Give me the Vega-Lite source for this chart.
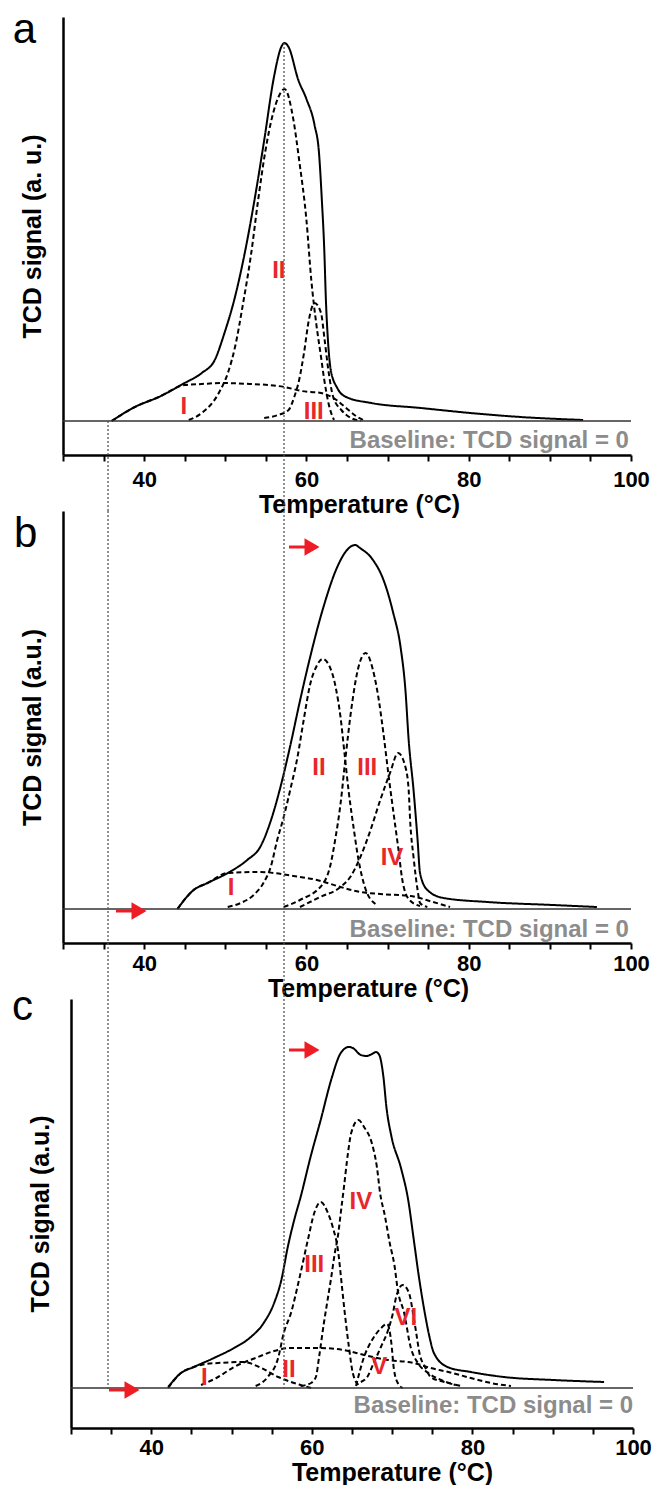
{
"$schema": "https://vega.github.io/schema/vega-lite/v6.json",
"padding": {"left": 11, "top": 8, "right": 6, "bottom": 0},
"background": "white",
"config": {
 "view": {"stroke": null},
 "font": "Liberation Sans",
 "axisX": {"grid": false, "tickSize": 6, "tickWidth": 2, "tickColor": "#000", "domainColor": "#000", "domainWidth": 2.5, "labelFontSize": 22, "labelFontWeight": "bold", "labelColor": "#000", "labelPadding": 8, "labelFlush": false, "labelOverlap": false, "titleFontSize": 25, "titleFontWeight": "bold", "titleColor": "#000", "titlePadding": 2, "values": [30, 40, 50, 60, 70, 80, 90, 100], "labelExpr": "datum.value % 20 == 0 && datum.value > 30 ? datum.label : ''"},
 "axisY": {"grid": false, "labels": false, "ticks": false, "domainColor": "#000", "domainWidth": 2.5, "titleFontSize": 25, "titleFontWeight": "bold", "titleColor": "#000", "titlePadding": 18}
},
"datasets": {
 "A": [
  {"s":"t","T":36.0,"v":0},{"s":"t","T":38.85,"v":0.14},{"s":"t","T":41.8,"v":0.24},{"s":"t","T":45.0,"v":0.38},{"s":"t","T":47.1,"v":0.48},{"s":"t","T":48.7,"v":0.61},{"s":"t","T":49.9,"v":0.88},{"s":"t","T":51.1,"v":1.21},{"s":"t","T":52.4,"v":1.68},{"s":"t","T":53.6,"v":2.21},{"s":"t","T":54.8,"v":2.81},{"s":"t","T":56.0,"v":3.44},{"s":"t","T":56.9,"v":3.74},{"s":"t","T":57.3,"v":3.78},{"s":"t","T":57.8,"v":3.74},{"s":"t","T":59.0,"v":3.41},{"s":"t","T":60.0,"v":3.22},{"s":"t","T":61.0,"v":2.96},{"s":"t","T":61.55,"v":2.68},{"s":"t","T":61.9,"v":2.21},{"s":"t","T":62.2,"v":1.71},{"s":"t","T":62.4,"v":1.21},{"s":"t","T":62.65,"v":0.81},{"s":"t","T":63.0,"v":0.51},{"s":"t","T":63.8,"v":0.33},{"s":"t","T":64.9,"v":0.24},{"s":"t","T":68.0,"v":0.18},{"s":"t","T":74.1,"v":0.13},{"s":"t","T":80.2,"v":0.08},{"s":"t","T":86.4,"v":0.04},{"s":"t","T":94.1,"v":0.01},
  {"s":"I","T":36.0,"v":0},{"s":"I","T":38.85,"v":0.14},{"s":"I","T":41.8,"v":0.24},{"s":"I","T":45.0,"v":0.36},{"s":"I","T":47.1,"v":0.37},{"s":"I","T":49.5,"v":0.38},{"s":"I","T":53.2,"v":0.37},{"s":"I","T":55.3,"v":0.36},{"s":"I","T":57.3,"v":0.34},{"s":"I","T":59.4,"v":0.30},{"s":"I","T":61.8,"v":0.28},{"s":"I","T":63.7,"v":0.21},{"s":"I","T":64.9,"v":0.13},{"s":"I","T":66.1,"v":0.05},{"s":"I","T":67.3,"v":0},
  {"s":"II","T":45.5,"v":0.01},{"s":"II","T":47.1,"v":0.08},{"s":"II","T":49.2,"v":0.28},{"s":"II","T":50.4,"v":0.5},{"s":"II","T":51.2,"v":0.74},{"s":"II","T":52.2,"v":1.18},{"s":"II","T":53.2,"v":1.68},{"s":"II","T":54.0,"v":2.18},{"s":"II","T":54.9,"v":2.68},{"s":"II","T":55.9,"v":3.08},{"s":"II","T":56.5,"v":3.23},{"s":"II","T":57.3,"v":3.32},{"s":"II","T":58.4,"v":3.01},{"s":"II","T":59.1,"v":2.61},{"s":"II","T":60.0,"v":2.01},{"s":"II","T":60.6,"v":1.41},{"s":"II","T":61.2,"v":0.98},{"s":"II","T":61.8,"v":0.64},{"s":"II","T":62.2,"v":0.41},{"s":"II","T":62.8,"v":0.15},{"s":"II","T":63.4,"v":0.01},
  {"s":"III","T":54.8,"v":0.03},{"s":"III","T":56.5,"v":0.06},{"s":"III","T":57.8,"v":0.11},{"s":"III","T":58.5,"v":0.24},{"s":"III","T":59.1,"v":0.41},{"s":"III","T":59.7,"v":0.68},{"s":"III","T":60.3,"v":1.01},{"s":"III","T":61.0,"v":1.18},{"s":"III","T":61.8,"v":1.08},{"s":"III","T":62.2,"v":0.84},{"s":"III","T":62.7,"v":0.51},{"s":"III","T":63.3,"v":0.24},{"s":"III","T":64.3,"v":0.11},{"s":"III","T":65.5,"v":0.03},{"s":"III","T":66.7,"v":0}
 ],
 "B": [
  {"s":"t","T":44.1,"v":0},{"s":"t","T":46.1,"v":0.19},{"s":"t","T":47.8,"v":0.26},{"s":"t","T":50.3,"v":0.36},{"s":"t","T":52.7,"v":0.49},{"s":"t","T":54.3,"v":0.62},{"s":"t","T":55.6,"v":0.88},{"s":"t","T":56.8,"v":1.22},{"s":"t","T":58.0,"v":1.63},{"s":"t","T":59.2,"v":2.08},{"s":"t","T":60.4,"v":2.50},{"s":"t","T":62.1,"v":3.02},{"s":"t","T":63.8,"v":3.42},{"s":"t","T":65.0,"v":3.59},{"s":"t","T":66.0,"v":3.64},{"s":"t","T":66.6,"v":3.61},{"s":"t","T":68.2,"v":3.49},{"s":"t","T":69.5,"v":3.29},{"s":"t","T":70.7,"v":2.96},{"s":"t","T":71.6,"v":2.62},{"s":"t","T":72.2,"v":2.19},{"s":"t","T":72.6,"v":1.69},{"s":"t","T":73.2,"v":1.19},{"s":"t","T":73.7,"v":0.69},{"s":"t","T":74.0,"v":0.36},{"s":"t","T":74.9,"v":0.19},{"s":"t","T":76.9,"v":0.11},{"s":"t","T":82.3,"v":0.07},{"s":"t","T":90.4,"v":0.04},{"s":"t","T":95.8,"v":0.02},
  {"s":"I","T":44.1,"v":0},{"s":"I","T":46.1,"v":0.19},{"s":"I","T":47.8,"v":0.26},{"s":"I","T":50.3,"v":0.36},{"s":"I","T":54.3,"v":0.37},{"s":"I","T":58.4,"v":0.33},{"s":"I","T":61.3,"v":0.29},{"s":"I","T":64.2,"v":0.22},{"s":"I","T":66.6,"v":0.17},{"s":"I","T":69.1,"v":0.15},{"s":"I","T":72.8,"v":0.13},{"s":"I","T":75.6,"v":0.07},{"s":"I","T":77.7,"v":0.02},
  {"s":"II","T":50.3,"v":0.02},{"s":"II","T":51.9,"v":0.06},{"s":"II","T":53.5,"v":0.14},{"s":"II","T":54.7,"v":0.26},{"s":"II","T":55.6,"v":0.42},{"s":"II","T":56.4,"v":0.69},{"s":"II","T":57.2,"v":0.92},{"s":"II","T":58.0,"v":1.19},{"s":"II","T":58.9,"v":1.52},{"s":"II","T":59.6,"v":1.86},{"s":"II","T":60.5,"v":2.26},{"s":"II","T":61.2,"v":2.42},{"s":"II","T":62.0,"v":2.50},{"s":"II","T":62.7,"v":2.45},{"s":"II","T":63.6,"v":2.22},{"s":"II","T":64.2,"v":1.92},{"s":"II","T":64.7,"v":1.55},{"s":"II","T":65.2,"v":1.18},{"s":"II","T":65.8,"v":0.82},{"s":"II","T":66.4,"v":0.5},{"s":"II","T":67.2,"v":0.22},{"s":"II","T":68.5,"v":0.05},
  {"s":"III","T":57.2,"v":0.02},{"s":"III","T":59.2,"v":0.09},{"s":"III","T":62.1,"v":0.26},{"s":"III","T":62.9,"v":0.42},{"s":"III","T":63.6,"v":0.72},{"s":"III","T":64.2,"v":1.05},{"s":"III","T":64.8,"v":1.5},{"s":"III","T":65.5,"v":1.98},{"s":"III","T":66.3,"v":2.38},{"s":"III","T":67.3,"v":2.56},{"s":"III","T":68.2,"v":2.39},{"s":"III","T":68.9,"v":2.1},{"s":"III","T":69.5,"v":1.75},{"s":"III","T":70.1,"v":1.35},{"s":"III","T":70.7,"v":0.98},{"s":"III","T":71.3,"v":0.62},{"s":"III","T":71.8,"v":0.3},{"s":"III","T":72.6,"v":0.1},{"s":"III","T":74.0,"v":0.03},
  {"s":"IV","T":59.2,"v":0.02},{"s":"IV","T":61.7,"v":0.12},{"s":"IV","T":64.2,"v":0.22},{"s":"IV","T":65.4,"v":0.32},{"s":"IV","T":66.6,"v":0.51},{"s":"IV","T":67.9,"v":0.79},{"s":"IV","T":69.1,"v":1.09},{"s":"IV","T":70.3,"v":1.36},{"s":"IV","T":71.3,"v":1.56},{"s":"IV","T":72.2,"v":1.42},{"s":"IV","T":72.6,"v":1.19},{"s":"IV","T":72.8,"v":0.86},{"s":"IV","T":73.2,"v":0.52},{"s":"IV","T":73.7,"v":0.19},{"s":"IV","T":74.0,"v":0.06},{"s":"IV","T":74.9,"v":0.02}
 ],
 "C": [
  {"s":"t","T":42.1,"v":0.01},{"s":"t","T":43.7,"v":0.15},{"s":"t","T":45.3,"v":0.21},{"s":"t","T":47.8,"v":0.30},{"s":"t","T":50.3,"v":0.40},{"s":"t","T":52.4,"v":0.51},{"s":"t","T":54.0,"v":0.65},{"s":"t","T":55.3,"v":0.85},{"s":"t","T":56.2,"v":1.08},{"s":"t","T":57.0,"v":1.41},{"s":"t","T":57.8,"v":1.68},{"s":"t","T":58.6,"v":1.91},{"s":"t","T":59.9,"v":2.33},{"s":"t","T":61.1,"v":2.68},{"s":"t","T":62.4,"v":3.08},{"s":"t","T":63.6,"v":3.35},{"s":"t","T":64.6,"v":3.41},{"s":"t","T":65.1,"v":3.40},{"s":"t","T":66.1,"v":3.33},{"s":"t","T":66.8,"v":3.32},{"s":"t","T":67.5,"v":3.34},{"s":"t","T":68.0,"v":3.36},{"s":"t","T":68.4,"v":3.33},{"s":"t","T":68.9,"v":3.12},{"s":"t","T":69.3,"v":2.8},{"s":"t","T":69.9,"v":2.52},{"s":"t","T":71.1,"v":2.2},{"s":"t","T":72.0,"v":1.88},{"s":"t","T":72.7,"v":1.48},{"s":"t","T":73.3,"v":1.13},{"s":"t","T":74.0,"v":0.78},{"s":"t","T":74.6,"v":0.53},{"s":"t","T":75.2,"v":0.35},{"s":"t","T":76.9,"v":0.21},{"s":"t","T":79.8,"v":0.16},{"s":"t","T":83.9,"v":0.11},{"s":"t","T":90.1,"v":0.08},{"s":"t","T":96.4,"v":0.06},
  {"s":"I","T":42.1,"v":0},{"s":"I","T":43.7,"v":0.15},{"s":"I","T":45.3,"v":0.21},{"s":"I","T":46.8,"v":0.24},{"s":"I","T":48.3,"v":0.25},{"s":"I","T":51.5,"v":0.26},{"s":"I","T":53.7,"v":0.20},{"s":"I","T":55.8,"v":0.11},{"s":"I","T":57.4,"v":0.06},{"s":"I","T":58.6,"v":0.03},{"s":"I","T":59.9,"v":0},
  {"s":"II","T":46.2,"v":0.03},{"s":"II","T":48.1,"v":0.10},{"s":"II","T":50.3,"v":0.21},{"s":"II","T":53.3,"v":0.31},{"s":"II","T":55.3,"v":0.37},{"s":"II","T":57.4,"v":0.40},{"s":"II","T":60.8,"v":0.40},{"s":"II","T":64.0,"v":0.38},{"s":"II","T":66.5,"v":0.33},{"s":"II","T":69.5,"v":0.28},{"s":"II","T":72.7,"v":0.25},{"s":"II","T":74.8,"v":0.20},{"s":"II","T":77.0,"v":0.16},{"s":"II","T":79.8,"v":0.10},{"s":"II","T":82.3,"v":0.05},{"s":"II","T":84.8,"v":0.02},
  {"s":"III","T":53.0,"v":0.02},{"s":"III","T":54.5,"v":0.11},{"s":"III","T":55.8,"v":0.30},{"s":"III","T":56.5,"v":0.55},{"s":"III","T":57.4,"v":0.75},{"s":"III","T":58.4,"v":1.08},{"s":"III","T":59.5,"v":1.48},{"s":"III","T":60.3,"v":1.75},{"s":"III","T":61.1,"v":1.86},{"s":"III","T":62.0,"v":1.75},{"s":"III","T":62.6,"v":1.61},{"s":"III","T":63.3,"v":1.35},{"s":"III","T":63.7,"v":1.05},{"s":"III","T":64.1,"v":0.75},{"s":"III","T":64.6,"v":0.42},{"s":"III","T":65.1,"v":0.15},{"s":"III","T":65.8,"v":0.03},
  {"s":"IV","T":58.6,"v":0.02},{"s":"IV","T":59.9,"v":0.05},{"s":"IV","T":60.5,"v":0.11},{"s":"IV","T":60.9,"v":0.31},{"s":"IV","T":61.5,"v":0.65},{"s":"IV","T":62.0,"v":0.90},{"s":"IV","T":62.4,"v":1.10},{"s":"IV","T":62.8,"v":1.32},{"s":"IV","T":63.3,"v":1.55},{"s":"IV","T":63.6,"v":1.75},{"s":"IV","T":64.0,"v":2.01},{"s":"IV","T":64.5,"v":2.35},{"s":"IV","T":64.9,"v":2.55},{"s":"IV","T":65.8,"v":2.68},{"s":"IV","T":66.5,"v":2.61},{"s":"IV","T":67.5,"v":2.44},{"s":"IV","T":68.1,"v":2.21},{"s":"IV","T":68.5,"v":1.95},{"s":"IV","T":69.1,"v":1.72},{"s":"IV","T":69.7,"v":1.45},{"s":"IV","T":70.3,"v":1.22},{"s":"IV","T":70.7,"v":0.98},{"s":"IV","T":71.5,"v":0.75},{"s":"IV","T":72.3,"v":0.41},{"s":"IV","T":73.2,"v":0.25},{"s":"IV","T":74.5,"v":0.15},{"s":"IV","T":76.1,"v":0.08},{"s":"IV","T":77.9,"v":0.03},
  {"s":"V","T":65.5,"v":0.02},{"s":"V","T":66.5,"v":0.31},{"s":"V","T":67.5,"v":0.48},{"s":"V","T":68.4,"v":0.58},{"s":"V","T":69.4,"v":0.64},{"s":"V","T":69.9,"v":0.45},{"s":"V","T":70.2,"v":0.2},{"s":"V","T":70.7,"v":0.05},{"s":"V","T":71.3,"v":0},
  {"s":"VI","T":66.1,"v":0.06},{"s":"VI","T":66.9,"v":0.11},{"s":"VI","T":67.7,"v":0.25},{"s":"VI","T":68.6,"v":0.41},{"s":"VI","T":69.5,"v":0.58},{"s":"VI","T":70.1,"v":0.75},{"s":"VI","T":70.5,"v":0.91},{"s":"VI","T":71.3,"v":1.03},{"s":"VI","T":72.1,"v":0.95},{"s":"VI","T":72.6,"v":0.75},{"s":"VI","T":73.0,"v":0.55},{"s":"VI","T":73.4,"v":0.35},{"s":"VI","T":74.1,"v":0.21},{"s":"VI","T":74.8,"v":0.11},{"s":"VI","T":76.5,"v":0.06},{"s":"VI","T":78.6,"v":0.02}
 ]
},
"spacing": 56,
"bounds": "flush",
"vconcat": [
 {
  "width": 568, "height": 438,
  "layer": [
   {"data": {"name": "A"}, "mark": {"type": "line", "color": "#000", "strokeWidth": 2, "interpolate": "monotone"}, "encoding": {
     "x": {"field": "T", "type": "quantitative", "scale": {"domain": [30, 100], "nice": false, "zero": false}, "title": "Temperature (°C)", "axis": {"titleX": 296, "labelPadding": 8}},
     "y": {"field": "v", "type": "quantitative", "scale": {"domain": [-0.34, 4.04], "nice": false, "zero": false}, "title": "TCD signal (a. u.)"},
     "strokeDash": {"field": "s", "type": "nominal", "scale": {"domain": ["t", "I", "II", "III", "IV", "V", "VI"], "range": [[1, 0], [5, 3], [5, 3], [5, 3], [5, 3], [5, 3], [5, 3]]}, "legend": null}}},
   {"data": {"values": [{}]}, "mark": {"type": "rule", "color": "#333", "strokeWidth": 1.5}, "encoding": {"y": {"datum": 0, "type": "quantitative"}}},
   {"data": {"values": [{"T": 35.55, "v": 0, "v2": -0.9}, {"T": 57.24, "v": 3.78, "v2": -0.9}]}, "mark": {"type": "rule", "color": "#555", "strokeWidth": 1.3, "strokeDash": [2, 2]}, "encoding": {"x": {"field": "T", "type": "quantitative"}, "y": {"field": "v", "type": "quantitative"}, "y2": {"field": "v2"}}},
   {"data": {"values": [{"lab": "I", "T": 44.9, "v": 0.14}, {"lab": "II", "T": 56.6, "v": 1.5}, {"lab": "III", "T": 60.9, "v": 0.09}]}, "mark": {"type": "text", "color": "#e8262c", "fontSize": 24, "fontWeight": "bold", "baseline": "middle", "align": "center"}, "encoding": {"x": {"field": "T", "type": "quantitative"}, "y": {"field": "v", "type": "quantitative"}, "text": {"field": "lab"}}},
   {"data": {"values": [{}]}, "mark": {"type": "text", "align": "right", "baseline": "alphabetic", "fontSize": 24, "fontWeight": "bold", "color": "#8c8c8c", "text": "Baseline: TCD signal = 0"}, "encoding": {"x": {"datum": 99.75, "type": "quantitative"}, "y": {"datum": -0.27, "type": "quantitative"}}},
   {"data": {"values": [{}]}, "mark": {"type": "text", "align": "left", "baseline": "alphabetic", "fontSize": 42, "color": "#000", "text": "a"}, "encoding": {"x": {"datum": 23.8, "type": "quantitative"}, "y": {"datum": 3.78, "type": "quantitative"}}}
  ]
 },
 {
  "width": 568, "height": 432,
  "layer": [
   {"data": {"name": "B"}, "mark": {"type": "line", "color": "#000", "strokeWidth": 2, "interpolate": "monotone"}, "encoding": {
     "x": {"field": "T", "type": "quantitative", "scale": {"domain": [30, 100], "nice": false, "zero": false}, "title": "Temperature (°C)", "axis": {"titleX": 305, "labelPadding": 4}},
     "y": {"field": "v", "type": "quantitative", "scale": {"domain": [-0.34, 3.98], "nice": false, "zero": false}, "title": "TCD signal (a.u.)"},
     "strokeDash": {"field": "s", "type": "nominal", "scale": {"domain": ["t", "I", "II", "III", "IV", "V", "VI"], "range": [[1, 0], [5, 3], [5, 3], [5, 3], [5, 3], [5, 3], [5, 3]]}, "legend": null}}},
   {"data": {"values": [{}]}, "mark": {"type": "rule", "color": "#333", "strokeWidth": 1.5}, "encoding": {"y": {"datum": 0, "type": "quantitative"}}},
   {"data": {"values": [{"T": 35.55, "v": 3.98, "v2": -0.9}, {"T": 57.24, "v": 3.98, "v2": -0.9}]}, "mark": {"type": "rule", "color": "#555", "strokeWidth": 1.3, "strokeDash": [2, 2]}, "encoding": {"x": {"field": "T", "type": "quantitative"}, "y": {"field": "v", "type": "quantitative"}, "y2": {"field": "v2"}}},
   {"data": {"values": [{"lab": "I", "T": 50.7, "v": 0.21}, {"lab": "II", "T": 61.55, "v": 1.41}, {"lab": "III", "T": 67.5, "v": 1.41}, {"lab": "IV", "T": 70.55, "v": 0.51}]}, "mark": {"type": "text", "color": "#e8262c", "fontSize": 24, "fontWeight": "bold", "baseline": "middle", "align": "center"}, "encoding": {"x": {"field": "T", "type": "quantitative"}, "y": {"field": "v", "type": "quantitative"}, "text": {"field": "lab"}}},
   {"data": {"values": [{"T": 36.53, "T2": 39.37, "v": -0.02}, {"T": 57.85, "T2": 60.69, "v": 3.62}]}, "layer": [
     {"mark": {"type": "rule", "color": "#ee1c24", "strokeWidth": 3}, "encoding": {"x": {"field": "T", "type": "quantitative"}, "x2": {"field": "T2"}, "y": {"field": "v", "type": "quantitative"}}},
     {"mark": {"type": "point", "shape": "triangle-right", "filled": true, "size": 300, "color": "#ee1c24", "opacity": 1}, "encoding": {"x": {"field": "T2", "type": "quantitative"}, "y": {"field": "v", "type": "quantitative"}}}
   ]},
   {"data": {"values": [{}]}, "mark": {"type": "text", "align": "right", "baseline": "alphabetic", "fontSize": 24, "fontWeight": "bold", "color": "#8c8c8c", "text": "Baseline: TCD signal = 0"}, "encoding": {"x": {"datum": 99.75, "type": "quantitative"}, "y": {"datum": -0.28, "type": "quantitative"}}},
   {"data": {"values": [{}]}, "mark": {"type": "text", "align": "left", "baseline": "alphabetic", "fontSize": 42, "color": "#000", "text": "b"}, "encoding": {"x": {"datum": 23.96, "type": "quantitative"}, "y": {"datum": 3.62, "type": "quantitative"}}}
  ]
 },
 {
  "spacing": 7,
  "bounds": "flush",
  "hconcat": [
   {"width": 1, "height": 1, "data": {"values": [{}]}, "mark": {"type": "point", "opacity": 0}},
   {
    "width": 562, "height": 429,
    "layer": [
     {"data": {"name": "C"}, "mark": {"type": "line", "color": "#000", "strokeWidth": 2, "interpolate": "monotone"}, "encoding": {
       "x": {"field": "T", "type": "quantitative", "scale": {"domain": [30, 100], "nice": false, "zero": false}, "title": "Temperature (°C)", "axis": {"titleX": 321, "labelPadding": 3}},
       "y": {"field": "v", "type": "quantitative", "scale": {"domain": [-0.40, 3.89], "nice": false, "zero": false}, "title": "TCD signal (a.u.)"},
       "strokeDash": {"field": "s", "type": "nominal", "scale": {"domain": ["t", "I", "II", "III", "IV", "V", "VI"], "range": [[1, 0], [5, 3], [5, 3], [5, 3], [5, 3], [5, 3], [5, 3]]}, "legend": null}}},
     {"data": {"values": [{}]}, "mark": {"type": "rule", "color": "#333", "strokeWidth": 1.5}, "encoding": {"y": {"datum": 0, "type": "quantitative"}}},
     {"data": {"values": [{"T": 34.61, "v": 3.89, "v2": -0.02}, {"T": 56.53, "v": 3.89, "v2": -0.02}]}, "mark": {"type": "rule", "color": "#555", "strokeWidth": 1.3, "strokeDash": [2, 2]}, "encoding": {"x": {"field": "T", "type": "quantitative"}, "y": {"field": "v", "type": "quantitative"}, "y2": {"field": "v2"}}},
     {"data": {"values": [{"lab": "I", "T": 46.6, "v": 0.10}, {"lab": "II", "T": 57.15, "v": 0.18}, {"lab": "III", "T": 60.3, "v": 1.23}, {"lab": "IV", "T": 66.1, "v": 1.86}, {"lab": "V", "T": 68.4, "v": 0.21}, {"lab": "VI", "T": 71.7, "v": 0.70}]}, "mark": {"type": "text", "color": "#e8262c", "fontSize": 24, "fontWeight": "bold", "baseline": "middle", "align": "center"}, "encoding": {"x": {"field": "T", "type": "quantitative"}, "y": {"field": "v", "type": "quantitative"}, "text": {"field": "lab"}}},
     {"data": {"values": [{"T": 34.73, "T2": 37.6, "v": -0.02}, {"T": 57.15, "T2": 60.02, "v": 3.38}]}, "layer": [
       {"mark": {"type": "rule", "color": "#ee1c24", "strokeWidth": 3}, "encoding": {"x": {"field": "T", "type": "quantitative"}, "x2": {"field": "T2"}, "y": {"field": "v", "type": "quantitative"}}},
       {"mark": {"type": "point", "shape": "triangle-right", "filled": true, "size": 300, "color": "#ee1c24", "opacity": 1}, "encoding": {"x": {"field": "T2", "type": "quantitative"}, "y": {"field": "v", "type": "quantitative"}}}
     ]},
     {"data": {"values": [{}]}, "mark": {"type": "text", "align": "right", "baseline": "alphabetic", "fontSize": 24, "fontWeight": "bold", "color": "#8c8c8c", "text": "Baseline: TCD signal = 0"}, "encoding": {"x": {"datum": 100, "type": "quantitative"}, "y": {"datum": -0.25, "type": "quantitative"}}},
     {"data": {"values": [{}]}, "mark": {"type": "text", "align": "left", "baseline": "alphabetic", "fontSize": 42, "color": "#000", "text": "c"}, "encoding": {"x": {"datum": 22.65, "type": "quantitative"}, "y": {"datum": 3.68, "type": "quantitative"}}}
    ]
   }
  ]
 }
]
}
